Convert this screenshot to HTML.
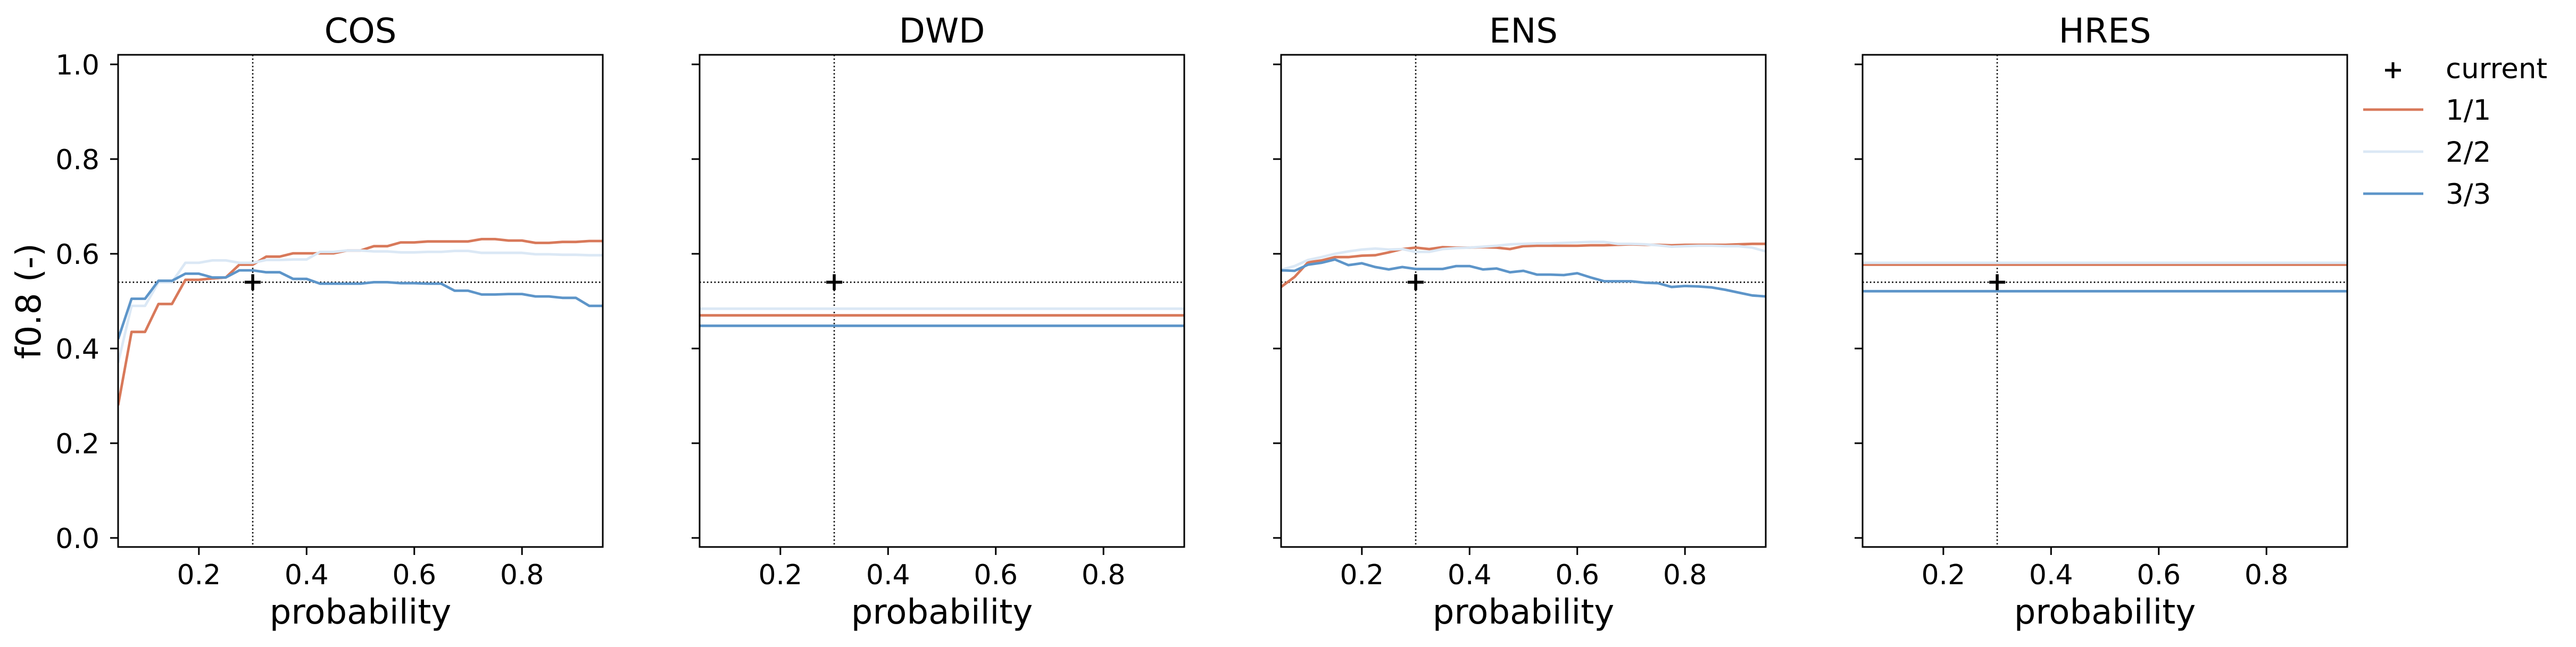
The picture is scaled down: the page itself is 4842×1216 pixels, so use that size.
<!DOCTYPE html>
<html><head><meta charset="utf-8"><style>
html,body{margin:0;padding:0;background:#fff;}
svg{display:block;font-family:"DejaVu Sans","Liberation Sans",sans-serif;}
</style></head><body>
<svg id="chart" xmlns="http://www.w3.org/2000/svg" width="4842" height="1216" viewBox="0 0 4842 1216"></svg>
<script>
const panelNames = ["COS","DWD","ENS","HRES"];
const seriesNames = ["1/1","2/2","3/3"];
const xTicks = [0.2,0.4,0.6,0.8];
const yTicks = [0.0,0.2,0.4,0.6,0.8,1.0];
const yTickLabels = ["0.0","0.2","0.4","0.6","0.8","1.0"];
const currentX = 0.3;
const currentY = 0.54;
const probStart = 0.05;
const probStep = 0.025;
const cos11 = [0.28,0.435,0.435,0.494,0.494,0.545,0.545,0.548,0.55,0.577,0.577,0.594,0.594,0.601,0.601,0.601,0.601,0.607,0.607,0.616,0.616,0.624,0.624,0.626,0.626,0.626,0.626,0.631,0.631,0.628,0.628,0.623,0.623,0.625,0.625,0.627,0.627];
const cos22 = [0.37,0.49,0.49,0.54,0.54,0.581,0.581,0.586,0.586,0.581,0.581,0.587,0.587,0.588,0.588,0.604,0.604,0.607,0.607,0.605,0.605,0.603,0.603,0.604,0.604,0.606,0.606,0.602,0.602,0.602,0.602,0.599,0.599,0.598,0.598,0.597,0.597];
const cos33 = [0.42,0.505,0.505,0.543,0.543,0.558,0.558,0.55,0.55,0.565,0.565,0.561,0.561,0.547,0.547,0.537,0.537,0.537,0.537,0.54,0.54,0.538,0.538,0.537,0.537,0.522,0.522,0.514,0.514,0.515,0.515,0.51,0.51,0.507,0.507,0.49,0.49];
const dwd11 = [0.470,0.470];
const dwd22 = [0.484,0.484];
const dwd33 = [0.448,0.448];
const ens11 = [0.53,0.551,0.582,0.586,0.593,0.593,0.596,0.597,0.603,0.61,0.613,0.61,0.614,0.613,0.613,0.614,0.613,0.61,0.616,0.617,0.617,0.617,0.617,0.618,0.618,0.619,0.62,0.619,0.619,0.618,0.619,0.619,0.619,0.619,0.62,0.621,0.621];
const ens22 = [0.566,0.574,0.587,0.593,0.6,0.605,0.609,0.611,0.609,0.61,0.604,0.604,0.61,0.612,0.613,0.615,0.617,0.62,0.621,0.622,0.622,0.623,0.624,0.625,0.625,0.621,0.621,0.62,0.618,0.615,0.616,0.617,0.617,0.616,0.616,0.613,0.605];
const ens33 = [0.565,0.564,0.577,0.581,0.588,0.576,0.58,0.572,0.567,0.572,0.568,0.568,0.568,0.574,0.574,0.567,0.569,0.561,0.564,0.556,0.556,0.555,0.559,0.55,0.542,0.542,0.542,0.539,0.538,0.53,0.532,0.531,0.529,0.524,0.518,0.512,0.51];
const hres11 = [0.577,0.577];
const hres22 = [0.581,0.581];
const hres33 = [0.521,0.521];

const NS="http://www.w3.org/2000/svg";
const svg=document.getElementById('chart');
const colors=["#d8795a","#dbe8f5","#5d95c9"];
const PW=911, PT=103, PB=1028, X0=0.05, X1=0.95, Y0=-0.0191, Y1=1.0202;
const panelLeft=[222,1315,2408,3501];
function mk(tag,attrs,parent){const e=document.createElementNS(NS,tag);for(const k in attrs)e.setAttribute(k,attrs[k]);(parent||svg).appendChild(e);return e;}
function xs(p,v){return panelLeft[p]+(v-X0)/(X1-X0)*PW;}
function ys(v){return PB-(v-Y0)/(Y1-Y0)*(PB-PT);}
const allData=[[cos11,cos22,cos33],[dwd11,dwd22,dwd33],[ens11,ens22,ens33],[hres11,hres22,hres33]];

panelNames.forEach((name,p)=>{
  const L=panelLeft[p];
  const g=mk('g',{});
  
  
  const clipId='clip'+p;
  const cp=mk('clipPath',{id:clipId},g);
  mk('rect',{x:L,y:PT,width:PW,height:PB-PT},cp);
  // reference lines
  const vl=mk('line',{x1:xs(p,currentX),x2:xs(p,currentX),y1:PT,y2:PB,stroke:'#000','stroke-width':2.6,'stroke-dasharray':'2.6 4.3'},g);
  
  
  const hl=mk('line',{x1:L,x2:L+PW,y1:ys(currentY),y2:ys(currentY),stroke:'#000','stroke-width':2.6,'stroke-dasharray':'2.6 4.3'},g);
  
  
  // series
  allData[p].forEach((arr,s)=>{
    let pts;
    if(arr.length===2){pts=[[X0,arr[0]],[X1,arr[1]]];}
    else{pts=arr.map((v,i)=>[probStart+i*probStep,v]);}
    const d=pts.map((q,i)=>(i?'L':'M')+xs(p,q[0]).toFixed(1)+' '+ys(q[1]).toFixed(1)).join(' ');
    const path=mk('path',{d:d,fill:'none',stroke:colors[s],'stroke-width':4.8,'stroke-linejoin':'round','clip-path':'url(#'+clipId+')'},g);
    
    
  });
  // current marker
  const cx=xs(p,currentX), cy=ys(currentY);
  const mg=mk('g',{},g);
  
  
  mk('line',{x1:cx-15,x2:cx+15,y1:cy,y2:cy,stroke:'#000','stroke-width':5.5},mg);
  mk('line',{x1:cx,x2:cx,y1:cy-15,y2:cy+15,stroke:'#000','stroke-width':5.5},mg);
  // frame
  const fr=mk('rect',{x:L,y:PT,width:PW,height:PB-PT,fill:'none',stroke:'#000','stroke-width':3},g);
  
  
  // x ticks
  xTicks.forEach(t=>{
    const x=xs(p,t);
    mk('line',{x1:x,x2:x,y1:PB,y2:PB+15,stroke:'#000','stroke-width':3},g);
    const tx=mk('text',{x:x,y:1098,'font-size':52,'text-anchor':'middle',fill:'#000'},g);
    tx.textContent=t.toFixed(1);
    
    
  });
  // y ticks
  yTicks.forEach((t,i)=>{
    const y=ys(t);
    mk('line',{x1:L-15,x2:L,y1:y,y2:y,stroke:'#000','stroke-width':3},g);
    if(p===0){
      const ty=mk('text',{x:L-35,y:y+19,'font-size':52,'text-anchor':'end',fill:'#000'},g);
      ty.textContent=yTickLabels[i];
      
      
    }
  });
  const ti=mk('text',{x:L+PW/2,y:80,'font-size':64,'text-anchor':'middle',fill:'#000'},g);
  ti.textContent=name;
  
  
  const xl=mk('text',{x:L+PW/2,y:1172,'font-size':64,'text-anchor':'middle',fill:'#000'},g);
  xl.textContent='probability';
  
  
});
const yl=mk('text',{x:0,y:0,'font-size':64,'text-anchor':'middle',fill:'#000',transform:'translate(76,566) rotate(-90)'});
yl.textContent='f0.8 (-)';



// legend
const lg=mk('g',{});


const le0=mk('g',{},lg);


mk('line',{x1:4483,x2:4513,y1:132,y2:132,stroke:'#000','stroke-width':5},le0);
mk('line',{x1:4498,x2:4498,y1:117,y2:147,stroke:'#000','stroke-width':5},le0);
const lt0=mk('text',{x:4597,y:147,'font-size':53,fill:'#000'},le0);
lt0.textContent='current';
const legY=[206,285,364];
seriesNames.forEach((n,s)=>{
  const e=mk('g',{},lg);
  
  
  mk('line',{x1:4442,x2:4555,y1:legY[s],y2:legY[s],stroke:colors[s],'stroke-width':4.8},e);
  const t=mk('text',{x:4597,y:legY[s]+19,'font-size':53,fill:'#000'},e);
  t.textContent=n;
});
</script>
</body></html>
